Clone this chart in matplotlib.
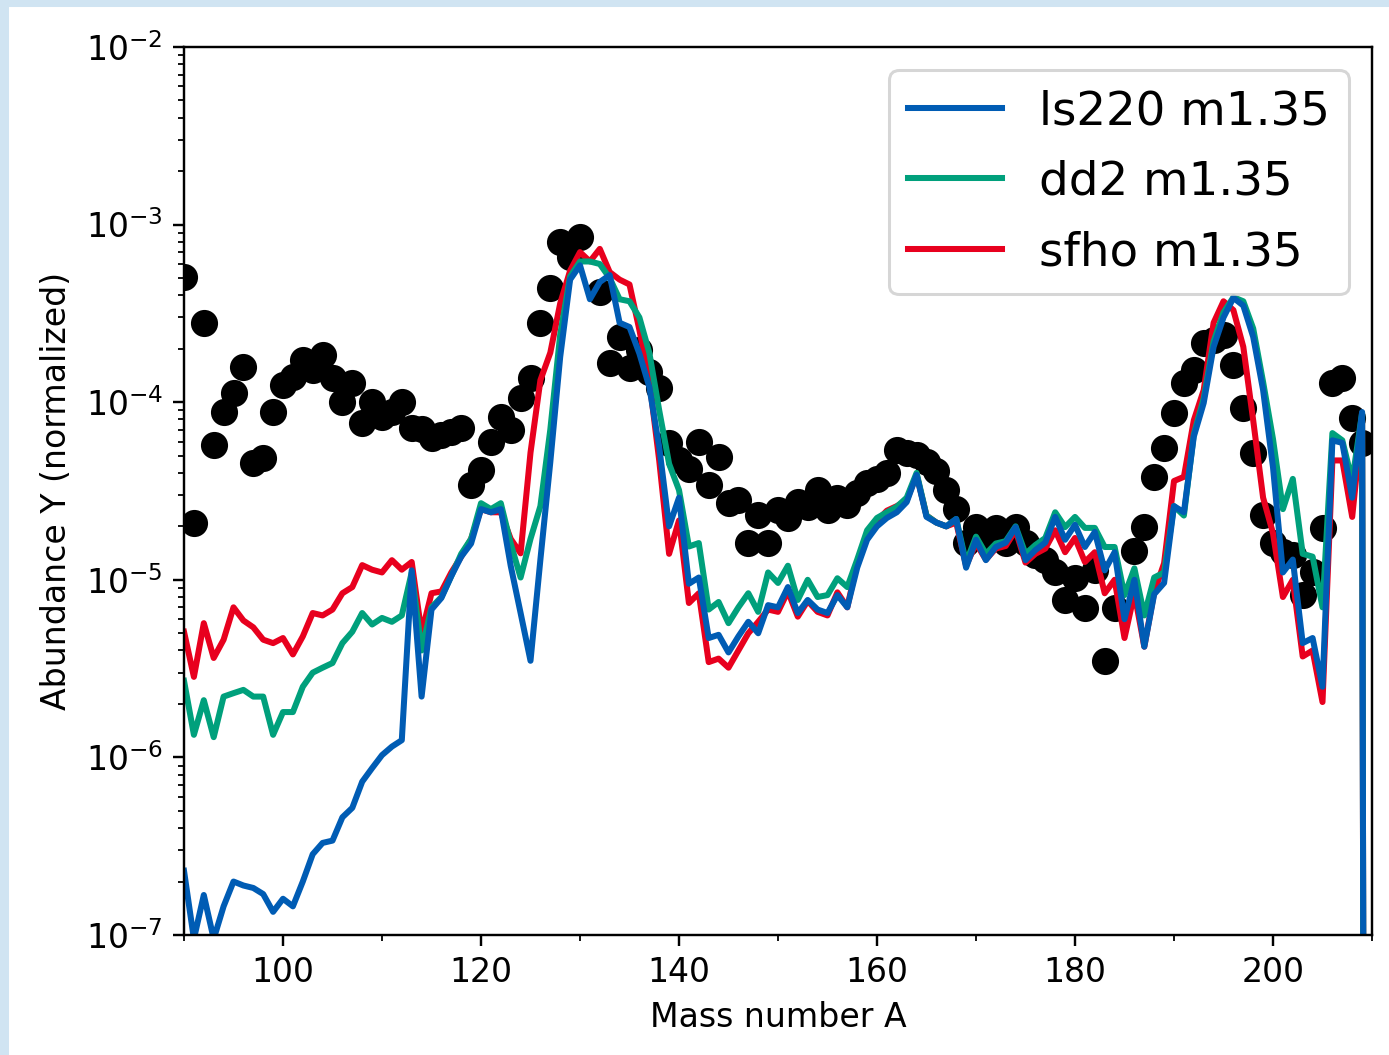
import numpy as np
import matplotlib
matplotlib.use("Agg")
import matplotlib.pyplot as plt
from matplotlib.patches import Rectangle
from matplotlib.ticker import MultipleLocator

# mass numbers of the model curves
mass = list(range(90, 211))

ls220 = [2.3e-7, 9.5e-8, 1.68e-7, 9.5e-8, 1.45e-7, 2.0e-7, 1.9e-7, 1.84e-7, 1.7e-7, 1.35e-7,
         1.6e-7, 1.45e-7, 2.0e-7, 2.85e-7, 3.3e-7, 3.4e-7, 4.6e-7, 5.2e-7, 7.3e-7, 8.7e-7,
         1.03e-6, 1.15e-6, 1.25e-6, 1.13e-5, 2.2e-6, 6.8e-6, 7.9e-6, 1.05e-5, 1.35e-5, 1.6e-5,
         2.5e-5, 2.4e-5, 2.5e-5, 1.2e-5, 6.5e-6, 3.5e-6, 1.3e-5, 4.6e-5, 1.8e-4, 4.9e-4,
         5.9e-4, 3.8e-4, 4.75e-4, 5.2e-4, 2.8e-4, 2.65e-4, 1.88e-4, 1.22e-4, 5.6e-5, 2.0e-5,
         2.9e-5, 9.5e-6, 1.03e-5, 4.7e-6, 4.9e-6, 3.9e-6, 4.8e-6, 5.8e-6, 5.0e-6, 7.2e-6,
         7.0e-6, 9.1e-6, 6.5e-6, 7.7e-6, 6.8e-6, 6.5e-6, 8.2e-6, 7.0e-6, 1.17e-5, 1.68e-5,
         2.0e-5, 2.23e-5, 2.4e-5, 2.74e-5, 3.9e-5, 2.26e-5, 2.1e-5, 2.0e-5, 2.2e-5, 1.17e-5,
         1.68e-5, 1.29e-5, 1.53e-5, 1.62e-5, 1.98e-5, 1.29e-5, 1.47e-5, 1.62e-5, 2.26e-5, 1.68e-5,
         2.04e-5, 1.53e-5, 1.86e-5, 1.13e-5, 1.43e-5, 6.0e-6, 1.0e-5, 4.2e-6, 8.3e-6, 9.6e-6,
         2.6e-5, 2.4e-5, 6.4e-5, 9.9e-5, 2.05e-4, 3.0e-4, 3.87e-4, 3.5e-4, 2.33e-4, 1.17e-4,
         4.3e-5, 1.1e-5, 1.3e-5, 4.4e-6, 4.7e-6, 2.5e-6, 6.1e-5, 5.9e-5, 2.9e-5, 8.8e-5,
         1e-30]

dd2 = [2.7e-6, 1.34e-6, 2.1e-6, 1.3e-6, 2.2e-6, 2.3e-6, 2.4e-6, 2.2e-6, 2.2e-6, 1.34e-6,
       1.8e-6, 1.8e-6, 2.5e-6, 3.0e-6, 3.2e-6, 3.4e-6, 4.4e-6, 5.1e-6, 6.5e-6, 5.6e-6,
       6.1e-6, 5.8e-6, 6.3e-6, 1.1e-5, 4.0e-6, 7.0e-6, 8.0e-6, 1.05e-5, 1.4e-5, 1.7e-5,
       2.7e-5, 2.5e-5, 2.7e-5, 1.6e-5, 1.03e-5, 1.7e-5, 2.6e-5, 7.0e-5, 2.4e-4, 5.1e-4,
       6.2e-4, 6.2e-4, 6.0e-4, 5.0e-4, 3.8e-4, 3.7e-4, 3.0e-4, 1.9e-4, 9.0e-5, 4.5e-5,
       3.2e-5, 1.54e-5, 1.61e-5, 6.8e-6, 7.5e-6, 5.7e-6, 7.0e-6, 8.4e-6, 6.6e-6, 1.1e-5,
       9.6e-6, 1.2e-5, 7.7e-6, 1.0e-5, 8.0e-6, 8.2e-6, 1.02e-5, 9.1e-6, 1.3e-5, 1.9e-5,
       2.23e-5, 2.4e-5, 2.58e-5, 2.9e-5, 4.0e-5, 2.3e-5, 2.1e-5, 2.0e-5, 2.2e-5, 1.25e-5,
       1.75e-5, 1.4e-5, 1.6e-5, 1.65e-5, 2.0e-5, 1.4e-5, 1.57e-5, 1.72e-5, 2.4e-5, 1.98e-5,
       2.26e-5, 1.96e-5, 1.96e-5, 1.53e-5, 1.53e-5, 8.2e-6, 1.16e-5, 6.3e-6, 1.03e-5, 1.1e-5,
       2.6e-5, 2.3e-5, 6.6e-5, 1.05e-4, 2.2e-4, 3.2e-4, 3.9e-4, 3.7e-4, 2.6e-4, 1.3e-4,
       6.2e-5, 2.5e-5, 3.7e-5, 1.4e-5, 1.35e-5, 7.0e-6, 6.7e-5, 6.1e-5, 3.6e-5, 8.7e-5,
       1e-30]

sfho = [5.1e-6, 2.84e-6, 5.7e-6, 3.63e-6, 4.6e-6, 7.0e-6, 5.9e-6, 5.4e-6, 4.6e-6, 4.4e-6,
        4.7e-6, 3.8e-6, 4.8e-6, 6.5e-6, 6.3e-6, 6.8e-6, 8.4e-6, 9.1e-6, 1.21e-5, 1.14e-5,
        1.1e-5, 1.29e-5, 1.14e-5, 1.26e-5, 5.0e-6, 8.4e-6, 8.6e-6, 1.1e-5, 1.35e-5, 1.7e-5,
        2.5e-5, 2.4e-5, 2.4e-5, 1.7e-5, 1.41e-5, 5.2e-5, 1.33e-4, 1.9e-4, 3.6e-4, 5.5e-4,
        7.0e-4, 6.2e-4, 7.3e-4, 5.4e-4, 4.9e-4, 4.6e-4, 2.55e-4, 1.33e-4, 4.7e-5, 1.4e-5,
        2.16e-5, 7.4e-6, 8.4e-6, 3.44e-6, 3.6e-6, 3.2e-6, 4.0e-6, 5.0e-6, 5.8e-6, 6.8e-6,
        6.6e-6, 8.6e-6, 6.2e-6, 7.6e-6, 6.6e-6, 6.3e-6, 8.5e-6, 7.0e-6, 1.25e-5, 1.8e-5,
        2.15e-5, 2.45e-5, 2.6e-5, 2.8e-5, 3.9e-5, 2.3e-5, 2.1e-5, 2.0e-5, 2.1e-5, 1.2e-5,
        1.6e-5, 1.3e-5, 1.5e-5, 1.55e-5, 1.9e-5, 1.25e-5, 1.4e-5, 1.5e-5, 1.9e-5, 1.43e-5,
        1.72e-5, 1.26e-5, 1.43e-5, 8.4e-6, 1.0e-5, 4.7e-6, 8.4e-6, 4.2e-6, 8.5e-6, 1.24e-5,
        3.6e-5, 3.8e-5, 7.9e-5, 1.17e-4, 2.8e-4, 3.7e-4, 3.3e-4, 2.05e-4, 7.9e-5, 2.9e-5,
        1.83e-5, 8.0e-6, 1.0e-5, 3.7e-6, 4.0e-6, 2.05e-6, 4.7e-5, 4.7e-5, 2.26e-5, 7.9e-5,
        1e-30]

# solar r-process abundances (black dots)
solar_A = [90, 91, 92, 93, 94, 95, 96, 97, 98, 99, 100, 101, 102, 103, 104, 105, 106, 107, 108, 109,
           110, 111, 112, 113, 114, 115, 116, 117, 118, 119, 120, 121, 122, 123, 124, 125, 126, 127, 128, 129,
           130, 132, 133, 134, 135, 136, 137, 138, 139, 140, 141, 142, 143, 144, 145, 146, 147, 148, 149, 150,
           151, 152, 153, 154, 155, 156, 157, 158, 159, 160, 161, 162, 163, 164, 165, 166, 167, 168, 169, 170,
           171, 172, 173, 174, 175, 176, 177, 178, 179, 180, 181, 182, 183, 184, 186, 187, 188, 189, 190, 191,
           192, 193, 194, 195, 196, 197, 198, 199, 200, 201, 202, 203, 204, 205, 206, 207, 208, 209]
solar_Y = [5.07e-4, 2.09e-5, 2.79e-4, 5.74e-5, 8.8e-5, 1.13e-4, 1.58e-4, 4.55e-5, 4.85e-5, 8.8e-5,
           1.25e-4, 1.39e-4, 1.73e-4, 1.52e-4, 1.84e-4, 1.37e-4, 1.0e-4, 1.28e-4, 7.6e-5, 1.0e-4,
           8.3e-5, 8.8e-5, 1.0e-4, 7.2e-5, 7.1e-5, 6.3e-5, 6.5e-5, 6.8e-5, 7.2e-5, 3.42e-5,
           4.15e-5, 5.97e-5, 8.3e-5, 6.97e-5, 1.06e-4, 1.37e-4, 2.79e-4, 4.4e-4, 7.97e-4, 6.57e-4,
           8.5e-4, 4.17e-4, 1.66e-4, 2.33e-4, 1.56e-4, 1.97e-4, 1.48e-4, 1.2e-4, 5.9e-5, 4.7e-5,
           4.2e-5, 6.0e-5, 3.4e-5, 4.9e-5, 2.7e-5, 2.8e-5, 1.61e-5, 2.32e-5, 1.61e-5, 2.47e-5,
           2.23e-5, 2.74e-5, 2.57e-5, 3.2e-5, 2.47e-5, 2.89e-5, 2.64e-5, 3.08e-5, 3.5e-5, 3.7e-5,
           4.0e-5, 5.38e-5, 5.2e-5, 5.04e-5, 4.6e-5, 4.1e-5, 3.2e-5, 2.5e-5, 1.61e-5, 1.98e-5,
           1.7e-5, 1.96e-5, 1.61e-5, 1.98e-5, 1.61e-5, 1.38e-5, 1.3e-5, 1.1e-5, 7.7e-6, 1.03e-5,
           6.9e-6, 1.13e-5, 3.5e-6, 6.9e-6, 1.46e-5, 1.98e-5, 3.8e-5, 5.5e-5, 8.7e-5, 1.28e-4,
           1.52e-4, 2.16e-4, 2.24e-4, 2.39e-4, 1.62e-4, 9.3e-5, 5.18e-5, 2.32e-5, 1.61e-5, 1.43e-5,
           1.38e-5, 8.2e-6, 1.11e-5, 1.96e-5, 1.28e-4, 1.37e-4, 8.1e-5, 5.9e-5]

blue = '#005cb4'
green = '#00a07c'
red = '#e8001e'

plt.rcParams['font.size'] = 11

fig = plt.figure(figsize=(1389/217, 1055/217), dpi=217)
# light blue frame strips of the screenshot
fig.patches.append(Rectangle((0, 0), 7/1389, 1, transform=fig.transFigure,
                             color='#d0e4f2', zorder=-1))
fig.patches.append(Rectangle((0, 1-5/1055), 1, 5/1055, transform=fig.transFigure,
                             color='#d0e4f2', zorder=-1))

ax = fig.add_axes([184/1389, 1-935/1055, (1372-184)/1389, (935-47)/1055])

ax.plot(solar_A, solar_Y, 'o', color='black', ms=8)
l3, = ax.plot(mass, sfho, color=red, lw=2, label='sfho m1.35')
l2, = ax.plot(mass, dd2, color=green, lw=2, label='dd2 m1.35')
l1, = ax.plot(mass, ls220, color=blue, lw=2, label='ls220 m1.35')

ax.set_yscale('log')
ax.set_xlim(90, 210)
ax.set_ylim(1e-7, 1e-2)
ax.xaxis.set_major_locator(MultipleLocator(20))
ax.xaxis.set_minor_locator(MultipleLocator(10))
ax.set_xlabel('Mass number A')
ax.set_ylabel('Abundance Y (normalized)')
ax.legend(handles=[l1, l2, l3], loc='upper right', fontsize=15.5,
          borderaxespad=0.5, labelspacing=0.55)

fig.savefig('out.png', dpi=217)
